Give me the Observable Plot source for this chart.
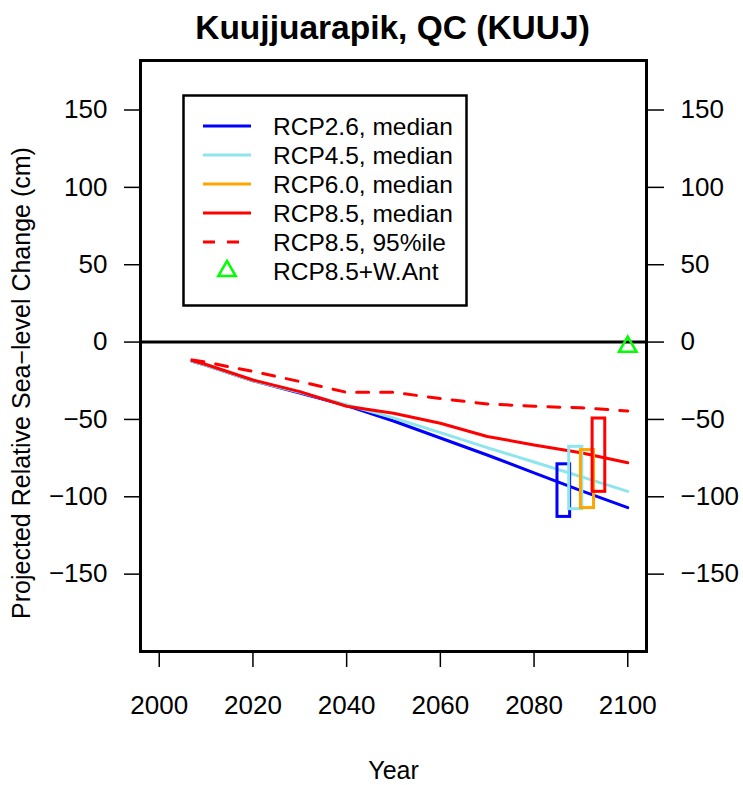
<!DOCTYPE html>
<html>
<head>
<meta charset="utf-8">
<script src="https://cdn.jsdelivr.net/npm/d3@7"></script>
<script src="https://cdn.jsdelivr.net/npm/@observablehq/plot@0.6"></script>
<style>
  body { margin: 0; background: white; font-family: "Liberation Sans", Arial, Helvetica, sans-serif; }
  #wrap { position: relative; width: 743px; height: 785px; }
  #title { height: 50px; line-height: 56px; font-size: 33.5px; font-weight: bold; text-align: center; padding-left: 42px; box-sizing: border-box; width: 743px; }
  #legend { position: absolute; left: 182px; top: 94px; }
</style>
</head>
<body>
<div id="wrap">
  <div id="title">Kuujjuarapik, QC (KUUJ)</div>
  <div id="chart"></div>
  <div id="legend"></div>
</div>
<script>
// ---- data ----
const years   = [2007, 2010, 2020, 2030, 2040, 2050, 2060, 2070, 2080, 2090, 2100];
const rcp26   = [-12.5, -15, -25, -33, -41, -51, -62, -73, -84.5, -96, -107];
const rcp45   = [-12.5, -15, -25, -32.5, -40.5, -49, -58.5, -68.2, -77.5, -87, -96.5];
const rcp85   = [-12, -14.5, -24.5, -32, -41.5, -46, -52.5, -61, -66.5, -71.5, -78];
const rcp85hi = [-11.5, -13, -19, -25.5, -32.5, -32.5, -36.5, -40, -41.5, -42.5, -44.5];

const barScenarios = ["RCP2.6", "RCP4.5", "RCP6.0", "RCP8.5"];
const barYearStart = [2085, 2087.5, 2090, 2092.5];
const barYearEnd   = [2087.7, 2090.3, 2092.8, 2095.2];
const barLow       = [-113, -108, -107.3, -96.8];
const barHigh      = [-79, -67.7, -69.8, -49.4];

const wantYear  = [2100];
const wantValue = [-3];

const xTicks = [2000, 2020, 2040, 2060, 2080, 2100];
const yTicks = [-150, -100, -50, 0, 50, 100, 150];

const colors = {"RCP2.6": "#0000FF", "RCP4.5": "#8EE5EE", "RCP6.0": "#FFA500", "RCP8.5": "#FF0000", "WAnt": "#00FF00"};

const legendLabels = ["RCP2.6, median", "RCP4.5, median", "RCP6.0, median", "RCP8.5, median", "RCP8.5, 95%ile", "RCP8.5+W.Ant"];

// ---- tables ----
const series = (vals, name) => years.map((y, i) => ({year: y, value: vals[i], name}));
const bars = barScenarios.map((s, i) => ({s, x1: barYearStart[i], x2: barYearEnd[i], lo: barLow[i], hi: barHigh[i]}));
const want = wantYear.map((y, i) => ({year: y, value: wantValue[i]}));

const font = "Liberation Sans, Arial, Helvetica, sans-serif";

const chart = Plot.plot({
  width: 743,
  height: 735,
  marginTop: 10,
  marginLeft: 140,
  marginRight: 97,
  marginBottom: 134,
  x: {domain: [1996, 2104]},
  y: {domain: [-200, 182]},
  style: {fontFamily: font, fontSize: "26px", background: "white", color: "black"},
  marks: [
    Plot.ruleY([0], {stroke: "black", strokeWidth: 3}),
    Plot.line(series(rcp26, "RCP2.6"), {x: "year", y: "value", stroke: colors["RCP2.6"], strokeWidth: 3}),
    Plot.line(series(rcp45, "RCP4.5"), {x: "year", y: "value", stroke: colors["RCP4.5"], strokeWidth: 3}),
    Plot.line(series(rcp85, "RCP8.5"), {x: "year", y: "value", stroke: colors["RCP8.5"], strokeWidth: 3}),
    Plot.line(series(rcp85hi, "RCP8.5hi"), {x: "year", y: "value", stroke: colors["RCP8.5"], strokeWidth: 3, strokeDasharray: "12,12"}),
    Plot.rect(bars, {x1: "x1", x2: "x2", y1: "lo", y2: "hi", fill: "none", stroke: d => colors[d.s], strokeWidth: 3}),
    Plot.dot(want, {x: "year", y: "value", symbol: "triangle", r: 6.5, fill: "none", stroke: colors["WAnt"], strokeWidth: 2.5}),
    Plot.axisY({anchor: "left", ticks: yTicks, tickSize: 16, tickPadding: 17, fontSize: 26, label: null, strokeWidth: 1.5}),
    Plot.axisY({anchor: "right", ticks: yTicks, tickSize: 17, tickPadding: 17, fontSize: 26, label: null, strokeWidth: 1.5}),
    Plot.axisX({anchor: "bottom", ticks: xTicks, tickSize: 16, tickPadding: 28, fontSize: 26, label: null, tickFormat: d => String(d), strokeWidth: 1.5}),
    Plot.text(["Projected Relative Sea\u2212level Change (cm)"], {frameAnchor: "left", textAnchor: "middle", rotate: -90, dx: -119, dy: 27, fontSize: 25}),
    Plot.text(["Year"], {frameAnchor: "bottom", dy: 127, fontSize: 25}),
    Plot.frame({stroke: "black", strokeWidth: 3})
  ]
});
document.getElementById("chart").appendChild(chart);

// ---- legend ----
const lw = 283, lh = 210;
const lg = d3.select("#legend").append("svg").attr("width", lw + 4).attr("height", lh + 4);
lg.append("rect").attr("x", 1.5).attr("y", 1.5).attr("width", lw).attr("height", lh)
  .attr("fill", "white").attr("stroke", "black").attr("stroke-width", 2.5);
const legendStyle = [
  {color: colors["RCP2.6"], dash: null, sym: "line"},
  {color: colors["RCP4.5"], dash: null, sym: "line"},
  {color: colors["RCP6.0"], dash: null, sym: "line"},
  {color: colors["RCP8.5"], dash: null, sym: "line"},
  {color: colors["RCP8.5"], dash: "12,12", sym: "line"},
  {color: colors["WAnt"], dash: null, sym: "tri"}
];
legendLabels.forEach((lab, i) => {
  const cy = 32 + 29 * i;
  const st = legendStyle[i];
  if (st.sym === "line") {
    lg.append("line").attr("x1", 21).attr("x2", 69).attr("y1", cy).attr("y2", cy)
      .attr("stroke", st.color).attr("stroke-width", 3).attr("stroke-dasharray", st.dash);
  } else {
    lg.append("path").attr("d", d3.symbol(d3.symbolTriangle, Math.PI * 6.5 * 6.5)())
      .attr("transform", `translate(45,${cy})`).attr("fill", "none")
      .attr("stroke", st.color).attr("stroke-width", 2.5);
  }
  lg.append("text").attr("x", 91).attr("y", cy).attr("dy", "0.35em")
    .attr("font-family", font).attr("font-size", 24.5).text(lab);
});
</script>
</body>
</html>
